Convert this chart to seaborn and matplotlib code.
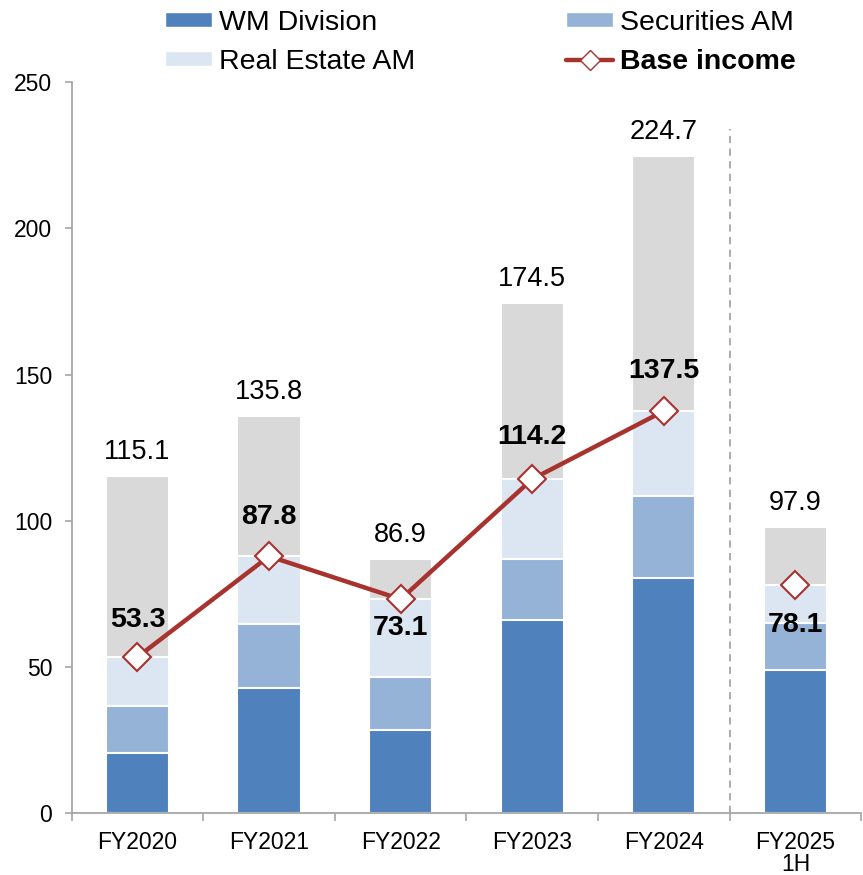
import numpy as np
import pandas as pd
import matplotlib
matplotlib.use('Agg')
import matplotlib.pyplot as plt
from matplotlib.patches import Patch
from matplotlib.lines import Line2D
import seaborn as sns

# data
years = ['FY2020', 'FY2021', 'FY2022', 'FY2023', 'FY2024', 'FY2025\n1H']
wm_division = [20.4, 42.6, 28.4, 66.0, 80.5, 48.9]
securities_am = [16.0, 22.0, 18.2, 20.9, 27.8, 15.9]
base_income = [53.3, 87.8, 73.1, 114.2, 137.5, 78.1]
total = [115.1, 135.8, 86.9, 174.5, 224.7, 97.9]

# base income = WM + Securities + Real Estate
real_estate_am = [b - w - s for b, w, s in zip(base_income, wm_division, securities_am)]

C_WM = '#4F81BD'
C_SEC = '#95B3D7'
C_RE = '#DCE6F2'
C_OTHER = '#D9D9D9'
C_LINE = '#A8322D'

sns.set_theme(style='white')
plt.rcParams['font.family'] = ['Liberation Sans', 'DejaVu Sans']
plt.rcParams['text.color'] = 'black'
plt.rcParams['xtick.color'] = 'black'
plt.rcParams['ytick.color'] = 'black'

df = pd.DataFrame({
    'year': years,
    'wm': wm_division,
    'sec': np.add(wm_division, securities_am),
    'base': base_income,
    'total': total,
})

fig, ax = plt.subplots(figsize=(8.63, 8.75), dpi=100)
fig.subplots_adjust(left=0.083, right=0.998, top=0.906, bottom=0.071)

# layered bars, tallest first
for colname, color in [('total', C_OTHER), ('base', C_RE), ('sec', C_SEC), ('wm', C_WM)]:
    sns.barplot(data=df, x='year', y=colname, color=color, width=0.48,
                edgecolor='white', linewidth=1.5, saturation=1, ax=ax)

# base income line (FY2025 1H not connected)
xpos = np.arange(len(years))
mk = dict(marker='D', markersize=14, markerfacecolor='white',
          markeredgecolor=C_LINE, markeredgewidth=1.5)
sns.lineplot(x=xpos[:5], y=base_income[:5], color=C_LINE, linewidth=3.2, ax=ax, **mk)
ax.plot(xpos[5:], base_income[5:], linestyle='none', **mk)

# labels
for i, t in enumerate(total):
    ax.annotate(f'{t:.1f}', (i, t), xytext=(0, 8), textcoords='offset points',
                ha='center', va='bottom', fontsize=19.5)
label_off = [27, 28, -21, 30, 29, -29]
for i, b in enumerate(base_income):
    ax.annotate(f'{b:.1f}', (i, b), xytext=(0, label_off[i]), textcoords='offset points',
                ha='center', va='center', fontsize=20.5, fontweight='bold')

# separator before the half-year
ax.plot([4.5, 4.5], [0, 234], linestyle=(0, (4, 3)), color='#A6A6A6', linewidth=1.3)

ax.set_ylim(0, 250)
ax.set_xlim(-0.5, 5.45)
ax.set_yticks([0, 50, 100, 150, 200, 250])
ax.set_xlabel('')
ax.set_ylabel('')
sns.despine(ax=ax, top=True, right=True)
for s in ['left', 'bottom']:
    ax.spines[s].set_color('#A6A6A6')
    ax.spines[s].set_linewidth(1.3)

ax.tick_params(axis='y', which='major', left=True, length=5, width=1.2, color='#A6A6A6',
               labelsize=16.5, pad=9, labelcolor='black')
ax.set_xticks(np.arange(-0.5, 6, 1.0), minor=True)
ax.tick_params(axis='x', which='minor', bottom=True, length=6, width=1.2, color='#A6A6A6')
ax.tick_params(axis='x', which='major', bottom=False, labelsize=16.5, pad=7, labelcolor='black')
for lbl in ax.get_xticklabels():
    lbl.set_linespacing(0.95)

handles = [
    Patch(facecolor=C_WM, label='WM Division'),
    Patch(facecolor=C_RE, label='Real Estate AM'),
    Patch(facecolor=C_SEC, label='Securities AM'),
    Line2D([0], [0], color=C_LINE, linewidth=3.2, marker='D', markersize=10,
           markerfacecolor='white', markeredgecolor=C_LINE, label='Base income'),
]
leg = fig.legend(handles=handles, loc='upper center', bbox_to_anchor=(0.557, 1.018), ncol=2,
                 frameon=False, fontsize=20.5, handlelength=1.65, handleheight=0.45,
                 columnspacing=5.3, labelspacing=0.45, handletextpad=0.25)
for txt in leg.get_texts():
    if txt.get_text() == 'Base income':
        txt.set_fontweight('bold')

plt.savefig('out.png', dpi=100)
